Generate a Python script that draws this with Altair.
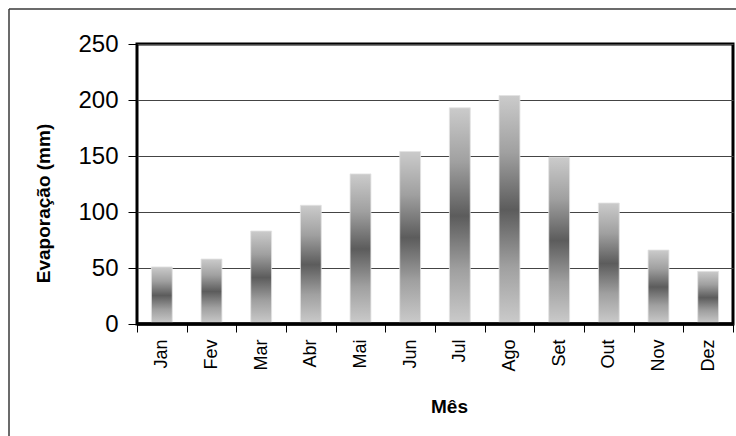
import altair as alt
import pandas as pd

meses = ["Jan", "Fev", "Mar", "Abr", "Mai", "Jun", "Jul", "Ago", "Set", "Out", "Nov", "Dez"]
evaporacao = [51, 58, 83, 106, 134, 154, 193, 204, 149, 108, 66, 47]
y_ticks = [0, 50, 100, 150, 200, 250]

df = pd.DataFrame({"Mês": meses, "Evaporação (mm)": evaporacao})

FONT = "Liberation Sans"

grad = alt.Gradient(
    gradient="linear",
    stops=[
        alt.GradientStop(color="#cbcbcb", offset=0),
        alt.GradientStop(color="#a0a0a0", offset=0.25),
        alt.GradientStop(color="#5c5c5c", offset=0.5),
        alt.GradientStop(color="#a0a0a0", offset=0.75),
        alt.GradientStop(color="#cbcbcb", offset=1),
    ],
    x1=0, x2=0, y1=0, y2=1,
)

bars = alt.Chart(df).mark_bar(
    fill=grad, width=alt.RelativeBandSize(0.42), stroke="#e2e2e2", strokeWidth=0.8
).encode(
    x=alt.X(
        "Mês:N",
        sort=meses,
        scale=alt.Scale(paddingInner=0, paddingOuter=0),
        axis=alt.Axis(
            title="Mês",
            labelAngle=-90,
            labelAlign="right",
            labelBaseline="middle",
            labelFont=FONT,
            labelFontSize=18,
            labelColor="black",
            labelPadding=7,
            tickBand="extent",
            tickSize=8,
            tickColor="black",
            tickWidth=1,
            domain=False,
            grid=False,
            titleFont=FONT,
            titleFontSize=19,
            titleFontWeight="bold",
            titleColor="black",
            titleX=312,
            titleY=82,
            titleAlign="center",
            titleBaseline="middle",
        ),
    ),
    y=alt.Y(
        "Evaporação (mm):Q",
        scale=alt.Scale(domain=[0, 250], nice=False),
        axis=alt.Axis(
            title="Evaporação (mm)",
            values=y_ticks,
            labelFont=FONT,
            labelFontSize=24,
            labelColor="black",
            labelPadding=10,
            tickSize=9,
            tickColor="black",
            tickWidth=1,
            domain=False,
            grid=True,
            gridColor="#444444",
            gridWidth=1,
            titleFont=FONT,
            titleFontSize=19,
            titleFontWeight="bold",
            titleColor="black",
            titleX=-94,
            titleY=159,
            titleAngle=-90,
            titleAlign="center",
            titleBaseline="middle",
        ),
    ),
)

frame_data = alt.Data(values=[{"k": 1}])
frame_left = alt.Chart(frame_data).mark_rule(color="#3a3a3a", strokeWidth=1.5).encode(
    x=alt.value(-128), y=alt.value(-35), y2=alt.value(400)
)
frame_top = alt.Chart(frame_data).mark_rule(color="#3a3a3a", strokeWidth=1.5).encode(
    x=alt.value(-128), x2=alt.value(610), y=alt.value(-35)
)
base_line = alt.Chart(frame_data).mark_rule(color="black", strokeWidth=3.5).encode(
    x=alt.value(0), x2=alt.value(596), y=alt.value(280)
)

chart = alt.layer(frame_left, frame_top, bars, base_line).properties(
    width=596,
    height=280,
    autosize=alt.AutoSizeParams(type="none"),
    padding={"left": 137, "top": 44, "right": 3, "bottom": 112},
    background="white",
).configure_view(stroke="black", strokeWidth=3)

chart.save("out.html", embed_options={"renderer": "svg", "actions": False})
